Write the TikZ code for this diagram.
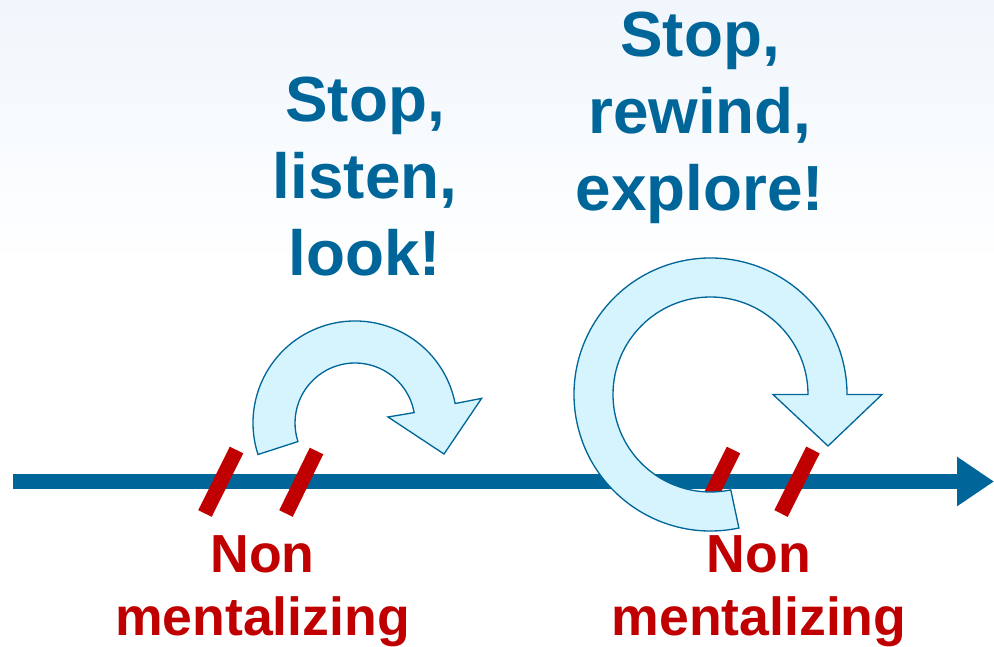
\documentclass[tikz,border=0pt]{standalone}
\usepackage{fontspec}
\setmainfont{Liberation Sans}
\usepackage{tikz}
\usetikzlibrary{arrows.meta}
\definecolor{lineblue}{RGB}{0,102,153}
\definecolor{markred}{RGB}{192,0,0}
\definecolor{loopfill}{RGB}{214,244,253}
\definecolor{skytop}{RGB}{240,246,252}

\begin{document}
\begin{tikzpicture}[x=0.02cm, y=0.02cm,
  bluetext/.style={color=lineblue, font=\fontsize{36.3pt}{43.6pt}\selectfont\bfseries,
       align=center, anchor=north, inner sep=0pt},
  redtext/.style={color=markred, font=\fontsize{30.5pt}{36.3pt}\selectfont\bfseries,
       align=center, anchor=north, inner sep=0pt},
  slashmark/.style={draw=markred, line width=0.3cm},
  looparrow/.style={draw=lineblue, fill=loopfill, line width=0.75pt, line join=miter}]

\useasboundingbox (0,0) rectangle (994,646);
\fill[white] (0,0) rectangle (994,646);
\shade[top color=skytop, bottom color=white] (0,380) rectangle (994,646);

\coordinate (timestart) at (13,164.5);
\coordinate (timeend) at (994,164.5);
\draw[lineblue, line width=0.32cm, -{Triangle[length=0.74cm, width=0.94cm]}]
  (timestart) -- (timeend);

\draw[slashmark] (236.5,196) -- (205,132.5);
\draw[slashmark] (316.5,195) -- (286,132.5);
\draw[slashmark] (733.5,196) -- (702,132.5);
\draw[slashmark] (813,196) -- (781,132.5);

\draw (262.5,111) node[redtext] (nonA) {Non\\mentalizing};
\draw (759,111) node[redtext] (nonB) {Non\\mentalizing};

\draw (365,569) node[bluetext] (listen) {Stop,\\listen,\\look!};
\draw (700,634) node[bluetext] (rewind) {Stop,\\rewind,\\explore!};

\draw[looparrow] (258.0,191.5) arc[start angle=198, end angle=11, radius=102]
  -- (481.6,247.6) -- (444,192) -- (388,229) -- (414.1,233.4)
  arc[start angle=10, end angle=198, radius=60] -- cycle;

\draw[looparrow] (738.9,118.0) arc[start angle=282, end angle=0, radius=136.5]
  -- (882,251.5) -- (828,200) -- (773,251.5) -- (808,251.5)
  arc[start angle=0, end angle=282, radius=97.5] -- cycle;
\end{tikzpicture}
\end{document}
